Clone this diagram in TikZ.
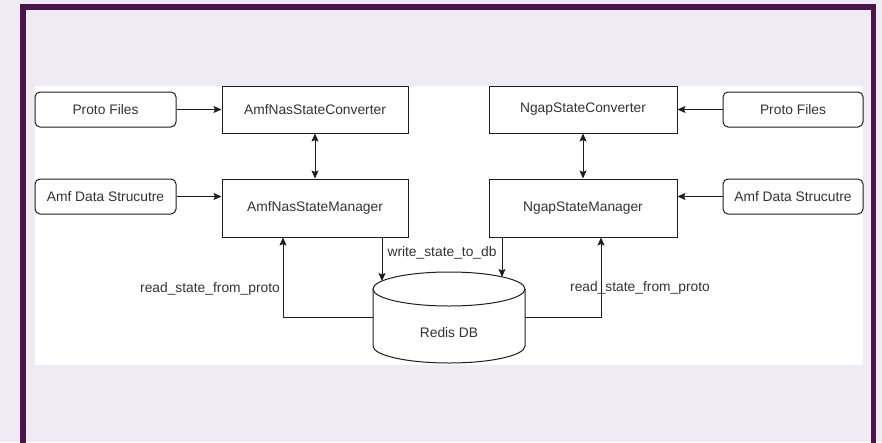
\documentclass[tikz,border=0pt]{standalone}
\usepackage{fontspec}
\setmainfont{Liberation Sans}
\usetikzlibrary{arrows.meta}
\definecolor{aub}{HTML}{4A154B}
\definecolor{lav}{HTML}{F0EAF5}
\definecolor{txt}{HTML}{333333}
\definecolor{ln}{HTML}{1E1E1E}
\begin{document}
\begin{tikzpicture}[x=1pt,y=-1pt,
  font=\fontsize{13.8}{16}\selectfont,
  box/.style={draw=ln, line width=1pt, fill=white, text=txt, inner sep=0pt},
  srcbox/.style={box, rounded corners=5pt, minimum height=35pt},
  arr/.style={draw=ln, line width=1pt, -{Stealth[length=8pt,width=7pt,inset=1.5pt]}},
  arrb/.style={draw=ln, line width=1pt, {Stealth[length=8pt,width=7pt,inset=1.5pt]}-{Stealth[length=8pt,width=7pt,inset=1.5pt]}},
  lbl/.style={text=txt, inner sep=1pt}]
\useasboundingbox (0,0) rectangle (882,442);
\fill[lav] (0,0) rectangle (882,442);
\draw[aub, line width=5.5pt] (22.75,6.75) rectangle (873.5,446);
\fill[white] (35,86) rectangle (863,365);

% left side
\node[srcbox, minimum width=141pt] (pf1) at (105.5,109.5) {Proto Files};
\node[srcbox, minimum width=141pt] (ad1) at (105.5,196.5) {Amf Data Strucutre};
\node[box, minimum width=186pt, minimum height=47pt] (conv1) at (315,109.5) {AmfNasStateConverter};
\node[box, minimum width=186pt, minimum height=58pt] (man1) at (315,208) {AmfNasStateManager};

% right side
\node[box, minimum width=188pt, minimum height=47pt] (conv2) at (583,109.5) {NgapStateConverter};
\node[box, minimum width=188pt, minimum height=58pt] (man2) at (583,208) {NgapStateManager};
\node[srcbox, minimum width=140pt] (pf2) at (793,109.5) {Proto Files};
\node[srcbox, minimum width=140pt] (ad2) at (793,196.5) {Amf Data Strucutre};

% database cylinder
\node[inner sep=0pt, minimum width=152pt, minimum height=91pt] (db) at (449,317.5) {};
\filldraw[draw=ln, fill=white, line width=1pt] (373,289) -- (373,346)
  arc[start angle=180, end angle=360, x radius=76pt, y radius=17pt] -- (525,289);
\draw[ln, line width=1pt] (449,289) ellipse[x radius=76pt, y radius=17pt];
\node[lbl] (dblabel) at (449,333) {Redis DB};
\coordinate (dbw1) at (382,281);
\coordinate (dbw2) at (502,277);

% connectors
\draw[arr] (pf1.east) -- (conv1.west);
\draw[arr] (ad1.east) -- (ad1.east -| man1.west);
\draw[arrb] (conv1.south) -- (man1.north);
\draw[arr] (pf2.west) -- (conv2.east);
\draw[arr] (ad2.west) -- (ad2.west -| man2.east);
\draw[arrb] (conv2.south) -- (man2.north);

\draw[arr] ([xshift=67pt]man1.south) -- (dbw1);
\draw[arr] ([xshift=-81pt]man2.south) -- (dbw2);
\draw[arr] (db.west) -| ([xshift=-32pt]man1.south);
\draw[arr] (db.east) -| ([xshift=18pt]man2.south);

% labels
\node[lbl] (wlabel) at (442,253) {write\_state\_to\_db};
\node[lbl, fill=white] (rlabel1) at (210,289) {read\_state\_from\_proto};
\node[lbl] (rlabel2) at (640,288) {read\_state\_from\_proto};
\end{tikzpicture}
\end{document}
